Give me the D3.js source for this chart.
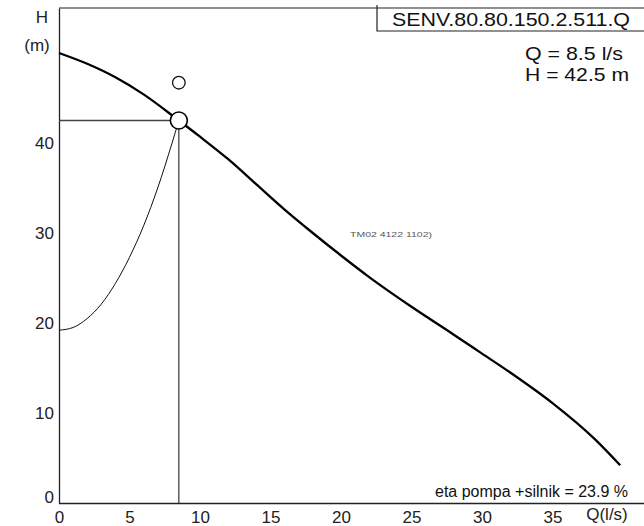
<!DOCTYPE html>
<html>
<head>
<meta charset="utf-8">
<script src="https://cdn.jsdelivr.net/npm/d3@7"></script>
<style>
  html, body { margin: 0; padding: 0; background: #fff; }
  svg { display: block; font-family: "Liberation Sans", Arial, sans-serif; }
</style>
</head>
<body>
<svg id="chart" width="644" height="526"></svg>
<script>
// Pump curve H(Q), l/s vs m
const pumpQ = [0, 2, 4, 6, 8.5, 10, 12, 14, 16, 18, 20, 22, 25, 28, 30, 32, 35, 38, 39.8];
const pumpH = [50, 48.8, 47.3, 45.4, 42.5, 40.7, 38.2, 35.4, 32.6, 30.0, 27.5, 25.1, 21.8, 18.7, 16.6, 14.5, 11.1, 7.1, 4.2];

// System curve up to the duty point
const sysQ = [0, 1, 2, 3, 4, 5, 6, 7, 8, 8.5];
const sysH = [19.2, 19.5, 20.5, 22.1, 24.4, 27.3, 30.8, 35.0, 39.9, 42.5];

// Duty point and efficiency marker
const dutyQ = 8.5, dutyH = 42.5;
const etaMarkQ = 8.5, etaMarkH = 46.7;

const xTicks = [0, 5, 10, 15, 20, 25, 30, 35];
const yTicks = [0, 10, 20, 30, 40];

const modelName = "SENV.80.80.150.2.511.Q";
const infoLines = ["Q = 8.5 l/s", "H = 42.5 m"];
const etaText = "eta pompa +silnik = 23.9 %";
const docCode = "TM02 4122 1102)";

const svg = d3.select("#chart");
const x = d3.scaleLinear().domain([0, 40]).range([59, 623]);
const y = d3.scaleLinear().domain([0, 55]).range([503, 8]);

// Top border of the frame
svg.append("line").attr("x1", x(0)).attr("x2", 644).attr("y1", y(55)).attr("y2", y(55))
  .attr("stroke", "#222").attr("stroke-width", 1.2);

const yAxis = svg.append("g").attr("transform", `translate(${x(0)},0)`)
  .call(d3.axisLeft(y).tickValues(yTicks).tickSize(0).tickPadding(5));
const xAxis = svg.append("g").attr("transform", `translate(0,${y(0)})`)
  .call(d3.axisBottom(x).tickValues(xTicks).tickSize(0).tickPadding(6));
xAxis.select(".domain").attr("d", `M${x(0)},0.5H644`);
[xAxis, yAxis].forEach(g => {
  g.select(".domain").attr("stroke", "#222").attr("stroke-width", 1.3);
  g.selectAll("text").attr("font-size", 17).attr("fill", "#222")
    .attr("font-family", "Liberation Sans, Arial, sans-serif");
});
yAxis.selectAll(".tick").filter(d => d === 0).select("text").attr("dy", "-0.05em");
xAxis.selectAll("text").attr("dy", "0.8em");

// Axis titles
svg.append("text").attr("x", 42).attr("y", 23).attr("text-anchor", "middle")
  .attr("font-size", 17).attr("fill", "#222").text("H");
svg.append("text").attr("x", 37).attr("y", 51).attr("text-anchor", "middle")
  .attr("font-size", 17).attr("fill", "#222").text("(m)");
svg.append("text").attr("x", 607).attr("y", 520).attr("text-anchor", "middle")
  .attr("font-size", 17).attr("fill", "#222").text("Q(l/s)");

// Title box
svg.append("path").attr("d", `M377,${y(55) - 3}V31H644`)
  .attr("fill", "none").attr("stroke", "#222").attr("stroke-width", 1.2);
svg.append("text").attr("x", 392).attr("y", 26)
  .attr("font-size", 19).attr("fill", "#111")
  .attr("textLength", 238).attr("lengthAdjust", "spacingAndGlyphs").text(modelName);
svg.selectAll("text.info").data(infoLines).join("text").attr("class", "info")
  .attr("x", 525).attr("y", (d, i) => 60 + i * 21)
  .attr("font-size", 19).attr("fill", "#111")
  .attr("textLength", (d, i) => i === 0 ? 98 : 104).attr("lengthAdjust", "spacingAndGlyphs")
  .text(d => d);

// Efficiency note
svg.append("text").attr("x", 628).attr("y", 497).attr("text-anchor", "end")
  .attr("font-size", 16).attr("fill", "#111").text(etaText);

svg.append("text").attr("x", 350).attr("y", 237).attr("font-size", 7)
  .attr("fill", "#555").attr("textLength", 82).attr("lengthAdjust", "spacingAndGlyphs")
  .text(docCode);

// Duty point guide lines
svg.append("line").attr("x1", x(0)).attr("x2", x(dutyQ)).attr("y1", y(dutyH)).attr("y2", y(dutyH))
  .attr("stroke", "#444").attr("stroke-width", 1.3);
svg.append("line").attr("x1", x(dutyQ)).attr("x2", x(dutyQ)).attr("y1", y(dutyH)).attr("y2", y(0))
  .attr("stroke", "#222").attr("stroke-width", 1.1);

// System curve
const sysLine = d3.line().x(d => x(d[0])).y(d => y(d[1])).curve(d3.curveMonotoneX);
svg.append("path").datum(sysQ.map((q, i) => [q, sysH[i]]))
  .attr("d", sysLine).attr("fill", "none").attr("stroke", "#111").attr("stroke-width", 1);

// Pump curve
const pumpLine = d3.line().x(d => x(d[0])).y(d => y(d[1])).curve(d3.curveMonotoneX);
svg.append("path").datum(pumpQ.map((q, i) => [q, pumpH[i]]))
  .attr("d", pumpLine).attr("fill", "none").attr("stroke", "#000").attr("stroke-width", 2.3);

// Markers
svg.append("circle").attr("cx", x(dutyQ)).attr("cy", y(dutyH)).attr("r", 8.5)
  .attr("fill", "#fff").attr("stroke", "#000").attr("stroke-width", 1.6);
svg.append("circle").attr("cx", x(etaMarkQ)).attr("cy", y(etaMarkH)).attr("r", 6.3)
  .attr("fill", "none").attr("stroke", "#111").attr("stroke-width", 1.3);
</script>
</body>
</html>
